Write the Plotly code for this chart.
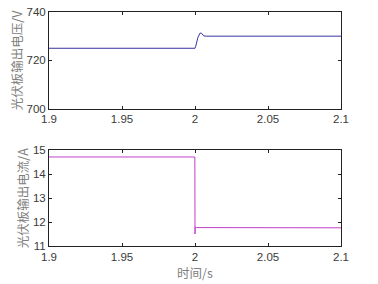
import plotly.graph_objects as go
from plotly.subplots import make_subplots

# Voltage (top)
t_v = [1.9, 2.0, 2.0005, 2.002, 2.0035, 2.0045, 2.006, 2.008, 2.1]
v_pv = [725.0, 725.0, 725.8, 729.5, 731.3, 731.2, 730.1, 730.0, 730.0]

# Current (bottom)
t_i = [1.9, 1.9999, 2.0, 2.0002, 2.001, 2.1]
i_pv = [14.72, 14.72, 11.5, 11.8, 11.77, 11.76]

x_ticks = [1.9, 1.95, 2.0, 2.05, 2.1]
x_ticktext = ["1.9", "1.95", "2", "2.05", "2.1"]
v_ticks = [700, 720, 740]
i_ticks = [11, 12, 13, 14, 15]

W, H = 378, 284
ml, mr, mt, mb = 49, 37, 6, 36
ph = H - mt - mb

def py(p):
    return (H - mb - p) / ph

fig = make_subplots(rows=2, cols=1)
fig.add_trace(go.Scatter(x=t_v, y=v_pv, mode="lines",
                         line=dict(color="#3535a0", width=1)), row=1, col=1)
fig.add_trace(go.Scatter(x=t_i, y=i_pv, mode="lines",
                         line=dict(color="#c040c8", width=1)), row=2, col=1)

axfont = dict(family="Liberation Sans, Arial", size=11.5, color="#3a3a3a")
labfont = dict(family="Noto Sans CJK SC", size=12.5, color="#808080")

common_x = dict(range=[1.9, 2.1], tickvals=x_ticks, ticktext=x_ticktext,
                ticks="inside", ticklen=3, tickcolor="#222", showline=True,
                linecolor="#222", linewidth=1, mirror="ticks", showgrid=False,
                zeroline=False, tickfont=axfont)
common_y = dict(ticks="inside", ticklen=3, tickcolor="#222", showline=True,
                linecolor="#222", linewidth=1, mirror="ticks", showgrid=False,
                zeroline=False, tickfont=axfont)

fig.update_layout(
    width=W, height=H, margin=dict(l=ml, r=mr, t=mt, b=mb),
    paper_bgcolor="white", plot_bgcolor="white", showlegend=False,
    xaxis=dict(common_x, domain=[0, 1]),
    xaxis2=dict(common_x, domain=[0, 1],
                title=dict(text="时间/s", font=labfont, standoff=6)),
    yaxis=dict(common_y, range=[700, 740], tickvals=v_ticks,
               domain=[py(106), 1.0],
               title=dict(text="光伏板输出电压/V", font=labfont, standoff=1)),
    yaxis2=dict(common_y, range=[11, 15], tickvals=i_ticks,
                domain=[0, py(149)],
                title=dict(text="光伏板输出电流/A", font=labfont, standoff=1)),
)

fig.write_html("out.html")
